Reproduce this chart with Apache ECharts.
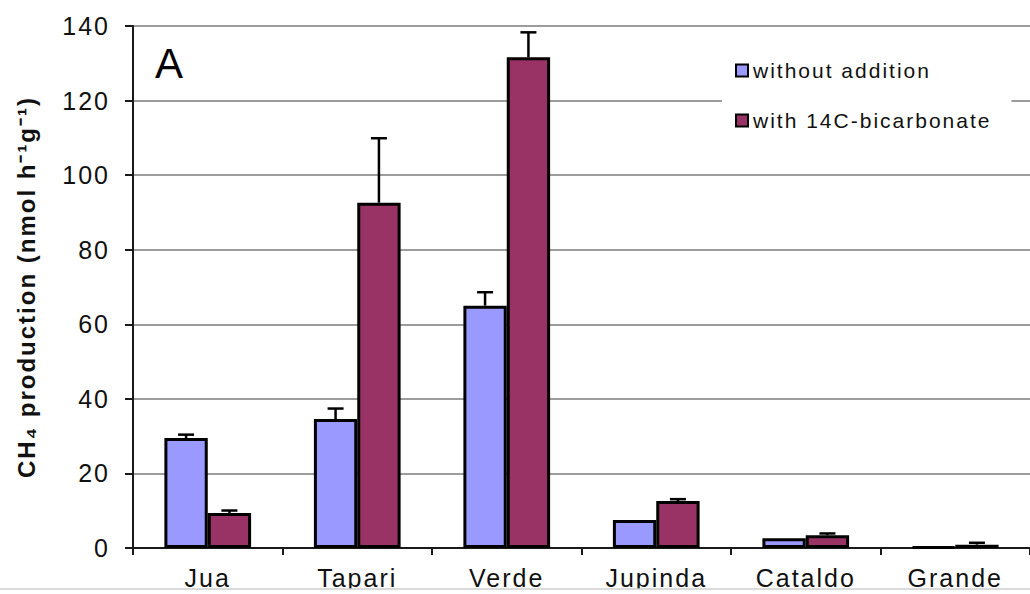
<!DOCTYPE html>
<html>
<head>
<meta charset="utf-8">
<script src="https://cdn.jsdelivr.net/npm/echarts@6/dist/echarts.min.js"></script>
<style>
  html, body { margin: 0; padding: 0; background: #fff; }
  #chart { width: 1030px; height: 594px; }
  #chart text { letter-spacing: 2px; }
</style>
</head>
<body>
<div id="chart"></div>
<script>
// Sites sampled
const categories = ['Jua', 'Tapari', 'Verde', 'Jupinda', 'Cataldo', 'Grande'];

// Mean CH4 production (nmol h-1 g-1)
const withoutAddition = [29.5, 34.6, 65.0, 7.5, 2.6, 0.3];
const withBicarbonate = [9.4, 92.6, 131.6, 12.6, 3.4, 0.9];

// Standard errors (upper whisker only)
const errWithout = [0.9, 2.8, 3.6, 0, 0, 0];
const errWith = [0.65, 17.3, 6.7, 0.5, 0.5, 0.5];

const seriesNames = ['without addition', 'with 14C-bicarbonate'];
const yTicks = { min: 0, max: 140, step: 20 };

const FONT = "'Liberation Sans', Arial, sans-serif";
const TEXT = '#111';
const CAT_GAP = 0.42;

const errData = [];
categories.forEach((c, i) => {
  errData.push([i, withoutAddition[i], errWithout[i], 0]);
  errData.push([i, withBicarbonate[i], errWith[i], 1]);
});

const chart = echarts.init(document.getElementById('chart'), null, { renderer: 'svg' });

chart.setOption({
  animation: false,
  backgroundColor: '#fff',
  grid: { left: 133, top: 26, width: 900, height: 522, containLabel: false },
  legend: {
    data: seriesNames,
    orient: 'vertical',
    left: 722,
    top: 46,
    padding: [14, 60, 14, 13],
    backgroundColor: '#fff',
    itemGap: 29,
    icon: 'rect',
    itemWidth: 12,
    itemHeight: 12,
    itemStyle: { borderColor: '#000', borderWidth: 2 },
    textStyle: { fontFamily: FONT, fontSize: 21, color: TEXT }
  },
  xAxis: {
    type: 'category',
    data: categories,
    axisLine: { lineStyle: { color: '#1a1a1a', width: 2 } },
    axisTick: { show: true, interval: 0, length: 7, lineStyle: { color: '#1a1a1a', width: 2 } },
    axisLabel: { interval: 0, margin: 17, fontFamily: FONT, fontSize: 25, color: TEXT },
    splitLine: { show: false }
  },
  yAxis: {
    type: 'value',
    min: yTicks.min,
    max: yTicks.max,
    interval: yTicks.step,
    name: 'CH₄ production (nmol h⁻¹g⁻¹)',
    nameLocation: 'middle',
    nameRotate: 90,
    nameGap: 95,
    nameTextStyle: { fontFamily: FONT, fontSize: 24, fontWeight: 'bold', color: TEXT },
    axisLine: { show: true, lineStyle: { color: '#1a1a1a', width: 2 } },
    axisTick: { show: true, length: 8, lineStyle: { color: '#1a1a1a', width: 2 } },
    axisLabel: { margin: 23, fontFamily: FONT, fontSize: 25, color: TEXT },
    splitLine: { show: true, lineStyle: { color: '#9c9c9c', width: 1.8 } }
  },
  series: [
    {
      name: seriesNames[0],
      type: 'bar',
      data: withoutAddition,
      barGap: '0%',
      barCategoryGap: (CAT_GAP * 100) + '%',
      itemStyle: { color: '#9999FF', borderColor: '#000', borderWidth: 3 }
    },
    {
      name: seriesNames[1],
      type: 'bar',
      data: withBicarbonate,
      barGap: '0%',
      barCategoryGap: (CAT_GAP * 100) + '%',
      itemStyle: { color: '#993366', borderColor: '#000', borderWidth: 3 }
    },
    {
      type: 'custom',
      data: errData,
      encode: { x: 0, y: 1 },
      z: 5,
      renderItem(params, api) {
        const cat = api.value(0), mean = api.value(1), err = api.value(2), side = api.value(3);
        if (!err) return null;
        const bandW = api.size([1, 0])[0];
        const barW = bandW * (1 - CAT_GAP) / 2;
        const base = api.coord([cat, mean]);
        const x = base[0] + (side - 0.5) * barW;
        const top = api.coord([cat, mean + err])[1];
        const st = { stroke: '#000', lineWidth: 2.5 };
        return {
          type: 'group',
          children: [
            { type: 'line', shape: { x1: x, y1: base[1], x2: x, y2: top }, style: st },
            { type: 'line', shape: { x1: x - 8, y1: top, x2: x + 8, y2: top }, style: st }
          ]
        };
      }
    }
  ],
  graphic: [
    {
      type: 'text', left: 155, top: 42, z: 10,
      style: { text: 'A', fontFamily: FONT, fontSize: 42, fill: '#000' }
    },
    {
      type: 'rect', z: 100, silent: true,
      shape: { x: 0, y: 589, width: 1030, height: 5 },
      style: { fill: '#fff' }
    },
    {
      type: 'line', z: 101, silent: true,
      shape: { x1: 0, y1: 589, x2: 1030, y2: 589 },
      style: { stroke: '#cfcfcf', lineWidth: 1.5 }
    }
  ]
});
</script>
</body>
</html>
